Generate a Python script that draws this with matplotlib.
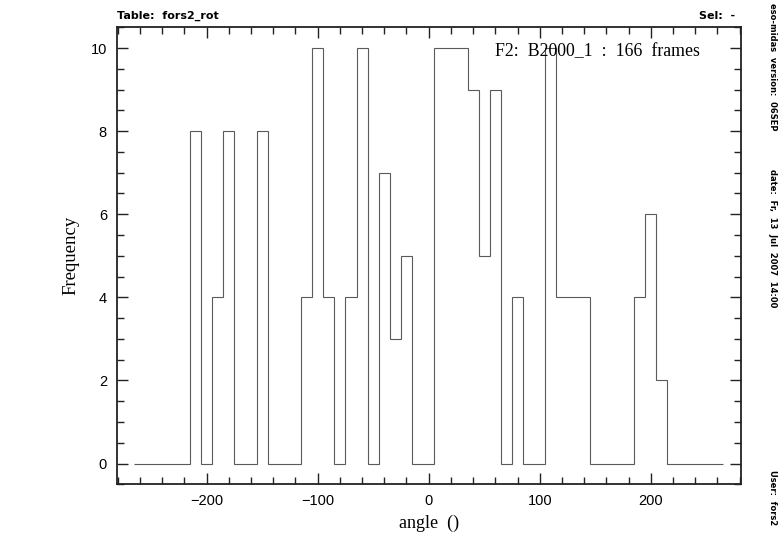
import numpy as np
import matplotlib
matplotlib.use("Agg")
import matplotlib.pyplot as plt
from matplotlib.ticker import MultipleLocator

# ------------------------------------------------------------------
# DATA: histogram of rotator angle, 10 deg bins from -265 to 265
# ------------------------------------------------------------------
bin_edges = np.arange(-265, 266, 10)
counts = [
    0, 0, 0, 0, 0,          # -265 .. -215
    8, 0, 4, 8, 0, 0, 8,    # -215 .. -145
    0, 0, 0, 4, 10, 4, 0,   # -145 .. -75
    4, 10, 0, 7, 3, 5, 0,   # -75 .. -5
    0, 10, 10, 10, 9, 5, 9, # -5 .. 65
    0, 4, 0, 0, 10, 4, 4,   # 65 .. 135
    4, 0, 0, 0, 0, 4, 6,    # 135 .. 205
    2, 0, 0, 0, 0, 0,       # 205 .. 265
]
x_ticks = [-200, -100, 0, 100, 200]
y_ticks = [0, 2, 4, 6, 8, 10]

# ------------------------------------------------------------------
# PLOT
# ------------------------------------------------------------------
serif = ["Liberation Serif", "DejaVu Serif"]
sans = ["Liberation Sans", "DejaVu Sans"]

fig = plt.figure(figsize=(7.82, 5.42), dpi=100)
ax = fig.add_axes([0.1492, 0.1065, 0.7980, 0.8431])

ax.stairs(counts, bin_edges, color="#5a5a5a", linewidth=0.8)

ax.set_xlim(-281, 281)
ax.set_ylim(-0.5, 10.5)
ax.set_xticks(x_ticks)
ax.set_yticks(y_ticks)
ax.xaxis.set_minor_locator(MultipleLocator(20))
ax.yaxis.set_minor_locator(MultipleLocator(0.5))
ax.tick_params(which="both", direction="in", top=True, right=True,
               labelsize=10.5, width=1.0, color="#222222")
ax.tick_params(which="major", length=8, pad=7)
ax.tick_params(which="minor", length=5)
for lab in ax.get_xticklabels() + ax.get_yticklabels():
    lab.set_family(sans)
for sp in ax.spines.values():
    sp.set_linewidth(1.3)
    sp.set_color("#222222")

ax.set_xlabel("angle  ()", family=serif, fontsize=13, labelpad=5)
ax.set_ylabel("Frequency", family=serif, fontsize=13.5, labelpad=8)

ax.text(0.606, 0.947, "F2:  B2000_1  :  166  frames", transform=ax.transAxes,
        ha="left", va="center", family=serif, fontsize=12.8)

# header / footer annotations
fig.text(0.1495, 0.962, "Table:  fors2_rot", ha="left", va="bottom",
         fontsize=8, fontweight="bold", family="DejaVu Sans")
fig.text(0.940, 0.962, "Sel:  -", ha="right", va="bottom",
         fontsize=8, fontweight="bold", family="DejaVu Sans")

side_kw = dict(rotation=-90, ha="center", va="top", fontsize=6,
               fontweight="bold", family="DejaVu Sans")
fig.text(0.988, 0.995, "eso-midas  version:  06SEP", **side_kw)
fig.text(0.988, 0.688, "date:  Fr,  13  Jul  2007  14:00", **side_kw)
fig.text(0.988, 0.133, "User:  fors2", **side_kw)

plt.savefig("out.png", dpi=100)
